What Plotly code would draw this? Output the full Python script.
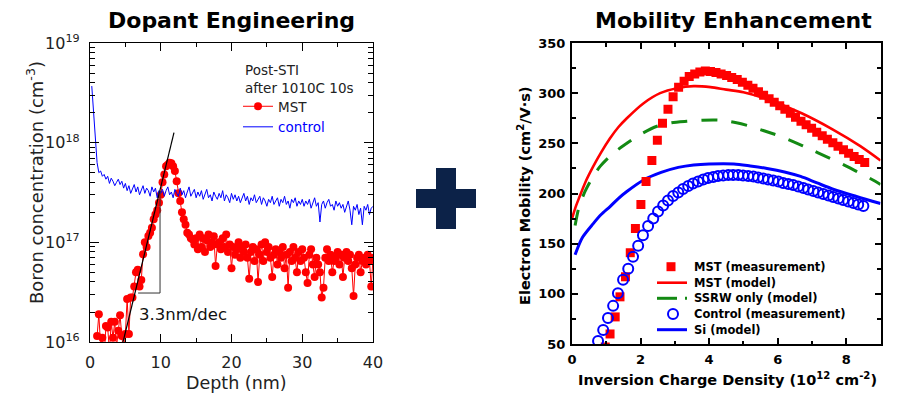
import numpy as np
import plotly.graph_objects as go

W, H = 900, 398
FONT = "DejaVu Sans"

# ---------------- Left panel: Dopant Engineering ----------------
depth_step = 0.25
mst_depth_start = 1.0
# boron concentration of MST sample, units of 1e16 cm^-3
mst_boron_e16 = [
    1.15, 1.9, 0.9, 1.1, 0.7, 1.45, 1.4, 0.8, 1.6, 1.1, 1.6, 0.9, 1.3, 1.85, 1.15, 0.8, 1.2,
    2.7, 1.2, 2.8, 2.8, 3.6, 5.0, 5.3, 3.6, 4.2, 7.6, 10, 9.0, 11.6, 12.5, 14, 17, 19, 21, 25, 30,
    40, 48, 58, 60, 63, 62, 58, 52, 41, 31, 26, 20, 17, 15, 12.5, 12, 11, 10.7, 9.5, 11,
    8.5, 12, 9, 11, 8, 10.5, 12, 9, 10, 11.5, 5.8, 9.5, 10, 8.5, 11, 9, 12, 8, 9.5, 5.5,
    9, 7.5, 8.5, 10, 7, 9, 8, 9.5, 7, 4.3, 8, 9, 6.5, 8.5, 4, 7.5, 9.5, 6.5, 10, 8,
    9, 7, 4.5, 7.5, 8.5, 6, 8, 7, 9, 5.5, 7.5, 3.5, 8, 6.5, 9, 7, 5, 8, 6.5, 8.5,
    7, 5, 3.9, 7.5, 8.5, 6, 4.5, 7, 6, 5, 2.8, 3.5, 7, 8.5, 6.5, 7.5, 5, 6.5, 7, 8,
    6, 7.5, 4.5, 7, 8, 6.5, 7.5, 5.5, 2.9, 6, 7, 7.5, 5, 6.5, 7, 6, 7.5, 6.5, 3.6, 7,
]
control_depth_start = 0.25
# boron concentration of control sample, units of 1e17 cm^-3
control_boron_e17 = [
    37, 20, 10.5, 6.3, 5.0, 5.2, 4.6, 4.8, 4.3, 4.6, 3.9, 4.4, 4.1, 3.7, 4.0, 4.3, 3.8, 4.1, 3.5, 3.9,
    3.3, 3.7, 3.1, 3.5, 3.8, 3.2, 3.6, 3.0, 3.4, 3.7, 3.1, 3.5, 3.3, 2.9, 3.6, 3.2, 3.5, 2.8, 3.3, 3.1,
    3.4, 2.9, 3.3, 3.6, 3.0, 3.2, 2.8, 3.4, 3.1, 2.9, 3.5, 3.0, 3.3, 2.8, 3.2, 3.6, 2.9, 3.1, 3.4, 2.8,
    3.2, 2.9, 3.3, 2.7, 3.1, 3.4, 2.8, 3.0, 2.6, 3.2, 2.9, 2.7, 3.1, 2.8, 3.3, 2.6, 3.0, 2.8, 2.5, 3.1,
    2.7, 3.0, 2.6, 2.9, 2.5, 2.8, 3.1, 2.6, 2.9, 2.4, 2.8, 2.6, 3.0, 2.5, 2.7, 2.9, 2.4, 2.8, 2.6, 2.3,
    2.7, 2.5, 2.9, 2.4, 2.6, 2.8, 2.3, 2.7, 2.5, 2.9, 2.4, 2.6, 2.2, 2.7, 2.5, 2.8, 2.3, 2.6, 2.4, 2.7,
    2.3, 2.6, 2.4, 2.7, 2.2, 2.5, 2.8, 2.3, 2.5, 1.6, 2.4, 2.6, 2.2, 2.5, 2.7, 2.3, 2.4, 2.1, 2.6, 2.3,
    2.5, 2.2, 2.4, 2.0, 2.3, 2.6, 2.1, 1.5, 2.3, 2.1, 2.4, 1.9, 2.2, 1.5, 2.3, 2.1, 2.4, 1.9, 2.2, 2.3,
]
fit_depth = [4.67, 11.87]
fit_boron = [1.0e16, 1.26e18]
tri_depth = [6.8, 9.9, 9.9]
tri_boron = [3.1e16, 3.1e16, 3.3e17]
left_yticks = [1e16, 1e17, 1e18, 1e19]
left_yticktext = ["10<sup>16</sup>", "10<sup>17</sup>", "10<sup>18</sup>", "10<sup>19</sup>"]

mst_depth = np.round(mst_depth_start + depth_step * np.arange(len(mst_boron_e16)), 2)
mst_boron = np.array(mst_boron_e16) * 1e16
control_depth = np.round(control_depth_start + depth_step * np.arange(len(control_boron_e17)), 2)
control_boron = np.array(control_boron_e17) * 1e17

# ---------------- Right panel: Mobility Enhancement ----------------
mst_meas_x = [0.97, 1.11, 1.26, 1.40, 1.56, 1.70, 1.85, 2.01, 2.16, 2.33,
              2.49, 2.64, 2.80, 2.95, 3.11, 3.27, 3.42, 3.58, 3.73, 3.89,
              4.04, 4.20, 4.35, 4.51, 4.66, 4.82, 4.97, 5.13, 5.28, 5.44,
              5.59, 5.75, 5.90, 6.06, 6.21, 6.37, 6.52, 6.68, 6.83, 6.99,
              7.14, 7.30, 7.45, 7.61, 7.76, 7.92, 8.07, 8.23, 8.38, 8.54]
mst_meas_y = [47, 60, 77, 97, 117, 141, 165, 189, 212, 233,
              253, 270, 284, 296.5, 306, 312, 316.5, 319, 321, 322,
              321.5, 320.5, 319, 317.5, 315.5, 313.5, 311, 308, 305, 301.5,
              298, 294.5, 291, 287.5, 284, 280, 276, 272, 268.5, 265,
              261, 257.5, 254, 250.5, 247, 243.5, 240, 237, 234, 231]
ctrl_meas_x = [0.76, 0.91, 1.05, 1.20, 1.34, 1.49, 1.64, 1.78, 1.93, 2.07,
               2.22, 2.37, 2.51, 2.66, 2.80, 2.95, 3.10, 3.24, 3.39, 3.53,
               3.68, 3.83, 3.97, 4.12, 4.26, 4.41, 4.56, 4.70, 4.85, 4.99,
               5.14, 5.29, 5.43, 5.58, 5.72, 5.87, 6.02, 6.16, 6.31, 6.45,
               6.60, 6.75, 6.89, 7.04, 7.18, 7.33, 7.48, 7.62, 7.77, 7.91,
               8.06, 8.21, 8.35, 8.50]
ctrl_meas_y = [53, 64, 76, 88, 100.5, 114, 125, 137, 148, 158.5,
               167.5, 175, 182, 188, 193, 197.5, 201, 204.5, 207.5, 210,
               212, 214, 215.5, 216.5, 217.5, 218, 218.5, 218.5, 218.5, 218,
               217.5, 217, 216, 215, 214, 213, 212, 210.5, 209.5, 208.5,
               207, 205.5, 204, 202.5, 201, 199.5, 198, 196.5, 195, 193.5,
               192, 190.5, 189, 187.5]
mst_model_x = [0.0, 0.1, 0.2, 0.4, 0.62, 0.85, 1.11, 1.35, 1.6, 2.09, 2.57, 3.06,
               3.55, 4.04, 4.5, 5.0, 5.7, 6.7, 7.6, 8.4, 9.0]
mst_model_y = [175, 186, 195, 212, 227, 241, 255, 266, 275, 290, 300, 305,
               307, 306, 303.5, 301, 294, 280, 264, 247.5, 233]
ssrw_model_x = [0.09, 0.2, 0.38, 0.6, 0.82, 1.2, 1.6, 2.0, 2.48, 2.9, 3.35, 3.8,
                4.33, 4.8, 5.2, 5.6, 6.08, 6.5, 6.96, 7.4, 7.84, 8.3, 8.86, 9.0]
ssrw_model_y = [168, 186, 202, 216, 227, 240, 250, 259, 267, 270.5, 272, 273,
                273, 270.5, 267, 262.5, 257, 251, 244, 237, 230, 222, 212, 209]
si_model_x = [0.09, 0.3, 0.62, 0.85, 1.11, 1.35, 1.6, 2.09, 2.6, 3.1, 3.55, 4.0,
              4.72, 5.2, 5.69, 6.2, 6.67, 7.15, 7.64, 8.3, 9.0]
si_model_y = [139, 156, 170, 179, 187, 195, 202, 213.5, 221, 226, 228.5, 229.5,
              229.5, 227.5, 225, 221.5, 217, 210.5, 204, 197, 190]
right_legend_labels = ["MST (measurement)", "MST (model)", "SSRW only (model)",
                       "Control (measurement)", "Si (model)"]

RED, BLUE, GREEN, NAVY = "#ff0000", "#0000ff", "#138a13", "#0c2248"


def px(x):
    return x / W


def py(y):
    return 1 - y / H


fig = go.Figure()

# left traces
fig.add_trace(go.Scatter(x=mst_depth, y=mst_boron, mode="lines+markers", name="MST",
                         line=dict(color=RED, width=1), marker=dict(color=RED, size=8),
                         xaxis="x", yaxis="y"))
fig.add_trace(go.Scatter(x=control_depth, y=control_boron, mode="lines",
                         name="<span style='color:#0000ff'>control</span>",
                         line=dict(color=BLUE, width=1), xaxis="x", yaxis="y"))
fig.add_trace(go.Scatter(x=fit_depth, y=fit_boron, mode="lines", showlegend=False,
                         line=dict(color="#000", width=1.2), xaxis="x", yaxis="y"))
fig.add_trace(go.Scatter(x=tri_depth, y=tri_boron, mode="lines", showlegend=False,
                         line=dict(color="#333", width=1), xaxis="x", yaxis="y"))

# right traces
fig.add_trace(go.Scatter(x=mst_model_x, y=mst_model_y, mode="lines", showlegend=False,
                         line=dict(color=RED, width=2.6, shape="spline", smoothing=0.8),
                         xaxis="x2", yaxis="y2"))
fig.add_trace(go.Scatter(x=ssrw_model_x, y=ssrw_model_y, mode="lines", showlegend=False,
                         line=dict(color=GREEN, width=3, dash="16px,14px", shape="spline", smoothing=0.8),
                         xaxis="x2", yaxis="y2"))
fig.add_trace(go.Scatter(x=si_model_x, y=si_model_y, mode="lines", showlegend=False,
                         line=dict(color=BLUE, width=3, shape="spline", smoothing=0.8),
                         xaxis="x2", yaxis="y2"))
fig.add_trace(go.Scatter(x=mst_meas_x, y=mst_meas_y, mode="markers", showlegend=False,
                         marker=dict(symbol="square", color=RED, size=9),
                         xaxis="x2", yaxis="y2"))
fig.add_trace(go.Scatter(x=ctrl_meas_x, y=ctrl_meas_y, mode="markers", showlegend=False,
                         marker=dict(symbol="circle-open", color=BLUE, size=10, line=dict(width=2)),
                         xaxis="x2", yaxis="y2"))

left_minor = [m * 10 ** e for e in (16, 17, 18) for m in range(2, 10)]

axis_common = dict(showgrid=False, zeroline=False, showline=True, linecolor="#000",
                   mirror="ticks", ticks="inside", tickcolor="#000", automargin=False)

fig.update_layout(
    width=W, height=H, margin=dict(l=0, r=0, t=0, b=0, pad=0, autoexpand=False),
    paper_bgcolor="white", plot_bgcolor="white",
    font=dict(family=FONT, color="#111"),
    xaxis=dict(axis_common, domain=[px(90), px(373)], range=[0, 40], anchor="y",
               linewidth=1.3, ticklen=8, tickwidth=1.2, tick0=0, dtick=10,
               tickfont=dict(size=16, color="#222"), ticklabelstandoff=6,
               minor=dict(ticks="inside", ticklen=4, tickwidth=1, tick0=0, dtick=5, tickcolor="#000")),
    yaxis=dict(axis_common, domain=[py(342), py(43)], type="log", range=[16, 19], anchor="x",
               linewidth=1.3, ticklen=9, tickwidth=1.2, tickvals=left_yticks, ticktext=left_yticktext,
               tickfont=dict(size=16, color="#222"), ticklabelstandoff=6,
               minor=dict(ticks="inside", ticklen=4.5, tickwidth=1, tickvals=left_minor, tickcolor="#000")),
    xaxis2=dict(axis_common, domain=[px(572), px(880.5)], range=[0, 9], anchor="y2",
                linewidth=2, ticklen=6, tickwidth=2, tick0=0, dtick=2,
                tickfont=dict(size=13, weight="bold", color="#000"), ticklabelstandoff=2,
                minor=dict(ticks="inside", ticklen=3.5, tickwidth=2, tick0=0, dtick=1, tickcolor="#000")),
    yaxis2=dict(axis_common, domain=[py(344), py(43)], range=[50, 350], anchor="x2",
                linewidth=2, ticklen=6, tickwidth=2, tick0=0, dtick=50,
                tickfont=dict(size=13, weight="bold", color="#000"), ticklabelstandoff=2,
                minor=dict(ticks="inside", ticklen=3.5, tickwidth=2, tick0=25, dtick=25, tickcolor="#000")),
    showlegend=True,
    legend=dict(x=px(238), y=py(91), xanchor="left", yanchor="top", bgcolor="rgba(0,0,0,0)",
                font=dict(family=FONT, size=13.5, color="#222"), tracegroupgap=0),
)

ann = []


def text(x, y, s, size, bold=False, angle=0, xanchor="center", color="#111"):
    ann.append(dict(x=px(x), y=py(y), xref="paper", yref="paper", text=s, showarrow=False,
                    xanchor=xanchor, yanchor="middle", textangle=angle,
                    font=dict(family=FONT, size=size, color=color,
                              weight="bold" if bold else "normal")))


text(231, 21, "Dopant Engineering", 22, bold=True, color="#000")
text(733, 21, "Mobility Enhancement", 22, bold=True, color="#000")
text(237, 383, "Depth (nm)", 17.5, color="#222")
text(35, 183, "Boron concentration (cm<sup>-3</sup>)", 18, angle=-90, color="#222")
text(727, 379, "Inversion Charge Density (10<sup>12</sup> cm<sup>-2</sup>)", 14.5, bold=True, color="#000")
text(524, 196, "Electron Mobility (cm<sup>2</sup>/V·s)", 14.5, bold=True, angle=-90, color="#000")
text(243, 70, "Post-STI", 13.5, xanchor="left", color="#222")
text(243, 88, "after 1010C 10s", 13.5, xanchor="left", color="#222")
ann.append(dict(x=6.64, y=16.28, xref="x", yref="y", text="3.3nm/dec", showarrow=False,
                xanchor="left", yanchor="middle", font=dict(family=FONT, size=16.5, color="#111")))

legend_rows = [266.7, 282.7, 298.3, 314, 329.7]
for yy, lab in zip(legend_rows, right_legend_labels):
    text(692, yy, lab, 11.5, bold=True, xanchor="left", color="#000")

shapes = []
# plus sign between the panels
shapes.append(dict(type="rect", xref="paper", yref="paper", x0=px(436), x1=px(456), y0=py(229), y1=py(168),
                   fillcolor=NAVY, line=dict(width=0), layer="above"))
shapes.append(dict(type="rect", xref="paper", yref="paper", x0=px(416), x1=px(476), y0=py(208), y1=py(189),
                   fillcolor=NAVY, line=dict(width=0), layer="above"))
# right legend samples
r = legend_rows
shapes.append(dict(type="rect", xref="paper", yref="paper", x0=px(666.5), x1=px(675.5),
                   y0=py(r[0] + 4.5), y1=py(r[0] - 4.5), fillcolor=RED, line=dict(width=0)))
shapes.append(dict(type="line", xref="paper", yref="paper", x0=px(657), x1=px(687), y0=py(r[1]), y1=py(r[1]),
                   line=dict(color=RED, width=2.6)))
shapes.append(dict(type="line", xref="paper", yref="paper", x0=px(657), x1=px(677), y0=py(r[2]), y1=py(r[2]),
                   line=dict(color=GREEN, width=3)))
shapes.append(dict(type="line", xref="paper", yref="paper", x0=px(685), x1=px(687), y0=py(r[2]), y1=py(r[2]),
                   line=dict(color=GREEN, width=3)))
shapes.append(dict(type="circle", xref="paper", yref="paper", x0=px(668), x1=px(678),
                   y0=py(r[3] + 5), y1=py(r[3] - 5), line=dict(color=BLUE, width=2)))
shapes.append(dict(type="line", xref="paper", yref="paper", x0=px(657), x1=px(687), y0=py(r[4]), y1=py(r[4]),
                   line=dict(color=BLUE, width=3)))

fig.update_layout(annotations=ann, shapes=shapes)
fig.write_html("out.html", config={"displayModeBar": False},
               post_script="document.body.style.margin='0px';")
